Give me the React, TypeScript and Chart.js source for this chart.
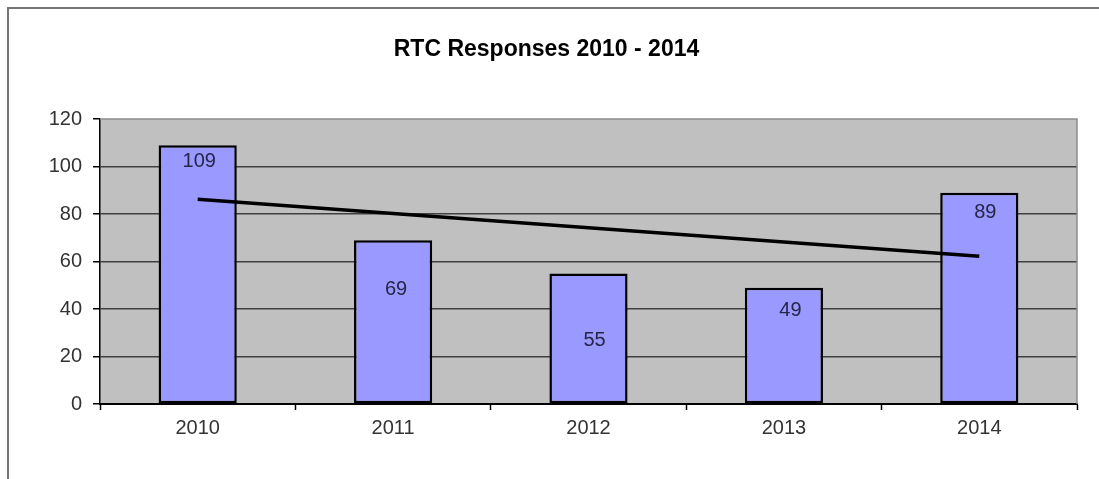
import React, { useEffect, useRef } from 'react';
import { Chart, registerables } from 'chart.js';

Chart.register(...registerables);

// ---- data ----
const years: string[] = ['2010', '2011', '2012', '2013', '2014'];
const responses: number[] = [109, 69, 55, 49, 89];
const trendValues: number[] = [86.2, 80.2, 74.2, 68.2, 62.2];
const yTickValues: number[] = [0, 20, 40, 60, 80, 100, 120];
const chartTitle = 'RTC Responses 2010 - 2014';
const pageHeading = '(RTC) Responses by Year';

// ---- styles ----
const FONT = '"Liberation Sans", Arial, Helvetica, sans-serif';
const labelOffsets: [number, number][] = [
  [1.5, 16.5],
  [3, 49],
  [6, 67],
  [6.5, 23],
  [6, 19.6],
];

const plotArea = {
  id: 'plotArea',
  beforeDraw(chart: any) {
    const { ctx, chartArea: a } = chart;
    ctx.save();
    ctx.fillStyle = '#C0C0C0';
    ctx.fillRect(a.left, a.top, a.right - a.left, a.bottom - a.top);
    ctx.restore();
  },
  beforeDatasetsDraw(chart: any) {
    const { ctx, chartArea: a } = chart;
    ctx.save();
    ctx.strokeStyle = '#8c8c8c';
    ctx.lineWidth = 1.5;
    ctx.beginPath();
    ctx.moveTo(a.left, a.top);
    ctx.lineTo(a.right, a.top);
    ctx.lineTo(a.right, a.bottom);
    ctx.stroke();
    ctx.restore();
  },
};

const barLabels = {
  id: 'barLabels',
  afterDatasetsDraw(chart: any) {
    const { ctx } = chart;
    const meta = chart.getDatasetMeta(1);
    ctx.save();
    ctx.font = `20px ${FONT}`;
    ctx.fillStyle = '#26264a';
    ctx.textAlign = 'center';
    ctx.textBaseline = 'middle';
    meta.data.forEach((el: any, i: number) => {
      const [dx, dy] = labelOffsets[i];
      ctx.fillText(String(responses[i]), el.x + dx, el.y + dy);
    });
    ctx.restore();
  },
};

export default function App() {
  const ref = useRef<HTMLCanvasElement | null>(null);

  useEffect(() => {
    if (!ref.current) return;
    const chart = new Chart(ref.current, {
      type: 'bar',
      data: {
        labels: years,
        datasets: [
          {
            type: 'line',
            label: 'Trend',
            data: trendValues,
            borderColor: '#000',
            borderWidth: 3.5,
            pointRadius: 0,
            fill: false,
            tension: 0,
            order: 0,
          } as any,
          {
            type: 'bar',
            label: 'Responses',
            data: responses,
            backgroundColor: '#9999FF',
            borderColor: '#000',
            borderWidth: 2.5,
            borderSkipped: false,
            barPercentage: 0.4,
            categoryPercentage: 1,
            order: 1,
          },
        ],
      },
      options: {
        responsive: false,
        animation: false,
        devicePixelRatio: 1,
        layout: { padding: { left: 16, right: 22, top: 0, bottom: 0 } },
        plugins: {
          legend: { display: false },
          tooltip: { enabled: false },
          title: {
            display: true,
            text: chartTitle,
            color: '#000',
            font: { family: FONT, size: 23, weight: 'bold', lineHeight: 1.2 },
            padding: { top: 35.5, bottom: 55.9 },
          },
        },
        scales: {
          x: {
            offset: true,
            afterFit: (s: any) => {
              s.height = 75;
            },
            grid: {
              display: true,
              drawOnChartArea: false,
              drawTicks: true,
              tickLength: 6,
              tickColor: '#000',
              tickWidth: 1.5,
              offset: true,
            },
            border: { display: true, color: '#000', width: 2 },
            ticks: {
              color: '#333',
              padding: 6.5,
              font: { family: FONT, size: 20 },
              maxRotation: 0,
            },
          },
          y: {
            min: 0,
            max: 120,
            afterFit: (s: any) => {
              s.width = 84;
            },
            afterBuildTicks: (s: any) => {
              s.ticks = yTickValues.map((v) => ({ value: v }));
            },
            grid: {
              color: (c: any) => (c.tick && c.tick.value === 120 ? 'rgba(0,0,0,0)' : '#404040'),
              lineWidth: 1.5,
              drawTicks: true,
              tickLength: 7,
              tickColor: '#000',
              tickWidth: 1.5,
            },
            border: { display: true, color: '#000', width: 1.5 },
            ticks: {
              color: '#333',
              padding: 11,
              font: { family: FONT, size: 20 },
            },
          },
        },
      },
      plugins: [plotArea, barLabels],
    });
    return () => chart.destroy();
  }, []);

  return (
    <>
      <div
        style={{
          position: 'absolute',
          left: 553,
          top: -31,
          margin: 0,
          font: `bold 29px ${FONT}`,
          lineHeight: '30px',
          whiteSpace: 'nowrap',
          color: '#000',
        }}
      >
        {pageHeading}
      </div>
      <div
        style={{
          position: 'absolute',
          left: 7,
          top: 7,
          right: 0,
          bottom: 0,
          borderTop: '2px solid #747474',
          borderLeft: '2px solid #747474',
        }}
      />
      <canvas
        ref={ref}
        width={1099}
        height={479}
        style={{ position: 'absolute', left: 0, top: 0, width: 1099, height: 479 }}
      />
    </>
  );
}
